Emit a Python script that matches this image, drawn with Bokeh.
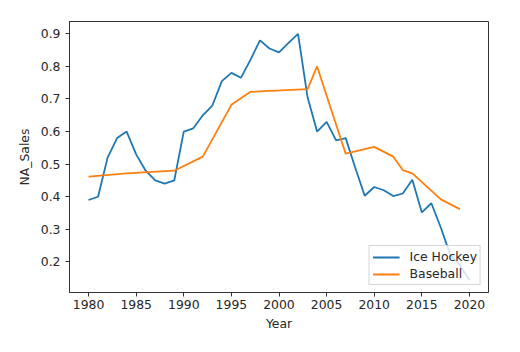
from bokeh.plotting import figure
from bokeh.models import Range1d, FixedTicker, Legend, LegendItem
from bokeh.embed import file_html
from bokeh.resources import INLINE

hockey_years = list(range(1980, 2021))
hockey_sales = [0.39, 0.40, 0.52, 0.58, 0.60, 0.53, 0.48, 0.45, 0.44, 0.45,
                0.60, 0.61, 0.65, 0.68, 0.755, 0.78, 0.765, 0.82, 0.88, 0.855,
                0.843, 0.872, 0.90, 0.705, 0.60, 0.63, 0.573, 0.58, 0.49, 0.403,
                0.43, 0.42, 0.402, 0.41, 0.452, 0.352, 0.38, 0.305, 0.22, 0.19,
                0.144]

baseball_years = [1980, 1984, 1989, 1992, 1995, 1997, 2003, 2004, 2007, 2010,
                  2012, 2013, 2014, 2017, 2019]
baseball_sales = [0.462, 0.472, 0.48, 0.523, 0.682, 0.722, 0.73, 0.80, 0.532,
                  0.553, 0.523, 0.482, 0.472, 0.392, 0.362]

x_ticks = [1980, 1985, 1990, 1995, 2000, 2005, 2010, 2015, 2020]
y_ticks = [0.2, 0.3, 0.4, 0.5, 0.6, 0.7, 0.8, 0.9]

FONT = "DejaVu Sans"
FS = "12.4px"

all_x = hockey_years + baseball_years
all_y = hockey_sales + baseball_sales
xmin, xmax = min(all_x), max(all_x)
ymin, ymax = min(all_y), max(all_y)
mx = (xmax - xmin) * 0.05
my = (ymax - ymin) * 0.05

p = figure(width=520, height=352, output_backend="svg", toolbar_location=None,
           x_range=Range1d(xmin - mx, xmax + mx),
           y_range=Range1d(ymin - my, ymax + my),
           min_border_left=69, min_border_right=32,
           min_border_top=21, min_border_bottom=60)

p.background_fill_color = "white"
p.border_fill_color = "white"
p.xgrid.visible = False
p.ygrid.visible = False
p.outline_line_color = "#333333"
p.outline_line_width = 1

r1 = p.line(hockey_years, hockey_sales, line_color="#1f77b4", line_width=1.8)
r2 = p.line(baseball_years, baseball_sales, line_color="#ff7f0e", line_width=1.8)

for ax in (p.xaxis[0], p.yaxis[0]):
    ax.axis_line_color = "#333333"
    ax.major_tick_line_color = "#333333"
    ax.minor_tick_line_color = None
    ax.major_tick_in = 0
    ax.major_tick_out = 4
    ax.major_label_text_font = FONT
    ax.major_label_text_font_size = FS
    ax.major_label_text_color = "#262626"
    ax.axis_label_text_font = FONT
    ax.axis_label_text_font_size = FS
    ax.axis_label_text_font_style = "normal"
    ax.axis_label_text_color = "#262626"

p.xaxis.ticker = FixedTicker(ticks=x_ticks)
p.yaxis.ticker = FixedTicker(ticks=y_ticks)
p.xaxis.axis_label = "Year"
p.yaxis.axis_label = "NA_Sales"
p.xaxis.major_label_standoff = 3
p.xaxis.axis_label_standoff = 4
p.yaxis.major_label_standoff = 5
p.yaxis.axis_label_standoff = 6

legend = Legend(items=[LegendItem(label="Ice Hockey", renderers=[r1]),
                       LegendItem(label="Baseball", renderers=[r2])],
                location="bottom_right")
legend.margin = 7
legend.padding = 3
legend.spacing = 2
legend.glyph_width = 27
legend.glyph_height = 14
legend.label_height = 14
legend.label_standoff = 10
legend.label_text_font = FONT
legend.label_text_font_size = FS
legend.label_text_color = "#262626"
legend.border_line_color = "#cccccc"
legend.border_line_alpha = 0.8
legend.background_fill_alpha = 0.8
p.add_layout(legend)

open("out.html", "w").write(file_html(p, INLINE))
